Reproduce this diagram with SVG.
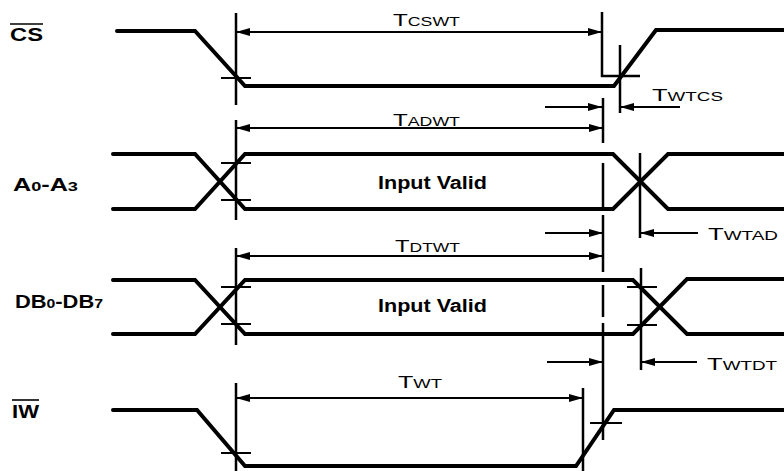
<svg xmlns="http://www.w3.org/2000/svg" width="784" height="471" viewBox="0 0 784 471">
<style>
.sig{fill:none;stroke:#000;stroke-width:4;stroke-linejoin:miter;stroke-linecap:round}
.ref{fill:none;stroke:#000;stroke-width:2.5}
.tick{fill:none;stroke:#000;stroke-width:2}
.dim{fill:none;stroke:#000;stroke-width:2}
.lbl{font-family:"Liberation Sans",Arial,sans-serif;font-weight:bold;fill:#000}
.tl{font-family:"Liberation Sans",Arial,sans-serif;fill:#000}
.big{font-size:17px}
.sm{font-size:12.5px}
</style>
<defs>
<marker id="ah" viewBox="0 0 14 8" refX="14" refY="4" markerWidth="14" markerHeight="8" markerUnits="userSpaceOnUse" orient="auto-start-reverse"><path d="M0,0 L14,4 L0,8 z" fill="#000"/></marker>
</defs>
<rect width="784" height="471" fill="#fff"/>

<g id="labels">
<text class="lbl" x="10" y="41" font-size="18" textLength="33" lengthAdjust="spacingAndGlyphs">CS</text>
<line x1="10" y1="24" x2="43" y2="24" stroke="#000" stroke-width="1.6"/>
<text class="lbl" x="13" y="191" font-size="18" textLength="65" lengthAdjust="spacingAndGlyphs">A<tspan font-size="13">0</tspan>-A<tspan font-size="13">3</tspan></text>
<text class="lbl" x="15" y="308" font-size="18" textLength="88" lengthAdjust="spacingAndGlyphs">DB<tspan font-size="13">0</tspan>-DB<tspan font-size="13">7</tspan></text>
<text class="lbl" x="12" y="418" font-size="18" textLength="27" lengthAdjust="spacingAndGlyphs">IW</text>
<line x1="12" y1="400" x2="39" y2="400" stroke="#000" stroke-width="1.6"/>
</g>

<g id="sig-cs">
<path class="sig" d="M117,31 H195 L245,86 H614 L656,30 H784"/>
</g>
<g id="sig-a">
<path class="sig" d="M113,154 H195 L245,209 H613 L668,154 H784"/>
<path class="sig" d="M113,209 H195 L245,154 H613 L668,209 H784"/>
<text class="lbl" x="378" y="189" font-size="18" textLength="109" lengthAdjust="spacingAndGlyphs">Input Valid</text>
</g>
<g id="sig-db">
<path class="sig" d="M113,280 H195 L245,334 H633 L687,279 H784"/>
<path class="sig" d="M113,334 H195 L245,280 H633 L687,334 H784"/>
<text class="lbl" x="378" y="312" font-size="18" textLength="109" lengthAdjust="spacingAndGlyphs">Input Valid</text>
</g>
<g id="sig-iw">
<path class="sig" d="M113,410 H197 L245,466 H576 L614,410 H784"/>
</g>

<g id="connectors">
<!-- reference verticals -->
<path class="ref" d="M236,13 V105 M236,120 V220 M236,248 V345 M236,383 V471"/>
<path class="ref" d="M602,12 V76 H640"/>
<path class="ref" d="M603,98 V143 M603,163 V207 M603,215 V272 M603,285 V317 M603,323 V440"/>
<path class="ref" d="M620,45 V113"/>
<path class="ref" d="M640,153 V238"/>
<path class="ref" d="M641,268 V370"/>
<path class="ref" d="M583,388 V471"/>
<!-- ticks -->
<path class="tick" d="M221,78 H251 M221,163 H251 M221,200 H251 M221,287 H251 M221,324 H251 M221,453 H251 M627,287 H657 M627,325 H657 M590,423 H622"/>
<!-- dimension arrows -->
<line class="dim" x1="236" y1="32" x2="602" y2="32" marker-start="url(#ah)" marker-end="url(#ah)"/>
<line class="dim" x1="236" y1="128" x2="603" y2="128" marker-start="url(#ah)" marker-end="url(#ah)"/>
<line class="dim" x1="236" y1="256" x2="603" y2="256" marker-start="url(#ah)" marker-end="url(#ah)"/>
<line class="dim" x1="236" y1="398" x2="583" y2="398" marker-start="url(#ah)" marker-end="url(#ah)"/>
<line class="dim" x1="545" y1="107" x2="602" y2="107" marker-end="url(#ah)"/>
<line class="dim" x1="545" y1="233" x2="603" y2="233" marker-end="url(#ah)"/>
<line class="dim" x1="547" y1="362" x2="603" y2="362" marker-end="url(#ah)"/>
<line class="dim" x1="680" y1="107" x2="620" y2="107" marker-end="url(#ah)"/>
<line class="dim" x1="698" y1="233" x2="640" y2="233" marker-end="url(#ah)"/>
<line class="dim" x1="697" y1="362" x2="641" y2="362" marker-end="url(#ah)"/>
</g>

<g id="timing-labels">
<text class="tl" x="393" y="26" textLength="67" lengthAdjust="spacingAndGlyphs"><tspan class="big">T</tspan><tspan class="sm">CSWT</tspan></text>
<text class="tl" x="393" y="126" textLength="67" lengthAdjust="spacingAndGlyphs"><tspan class="big">T</tspan><tspan class="sm">ADWT</tspan></text>
<text class="tl" x="395" y="252" textLength="65" lengthAdjust="spacingAndGlyphs"><tspan class="big">T</tspan><tspan class="sm">DTWT</tspan></text>
<text class="tl" x="398" y="388" textLength="44" lengthAdjust="spacingAndGlyphs"><tspan class="big">T</tspan><tspan class="sm">WT</tspan></text>
<text class="tl" x="652" y="101" textLength="71" lengthAdjust="spacingAndGlyphs"><tspan class="big">T</tspan><tspan class="sm">WTCS</tspan></text>
<text class="tl" x="708" y="240" textLength="70" lengthAdjust="spacingAndGlyphs"><tspan class="big">T</tspan><tspan class="sm">WTAD</tspan></text>
<text class="tl" x="707" y="370" textLength="70" lengthAdjust="spacingAndGlyphs"><tspan class="big">T</tspan><tspan class="sm">WTDT</tspan></text>
</g>
</svg>
